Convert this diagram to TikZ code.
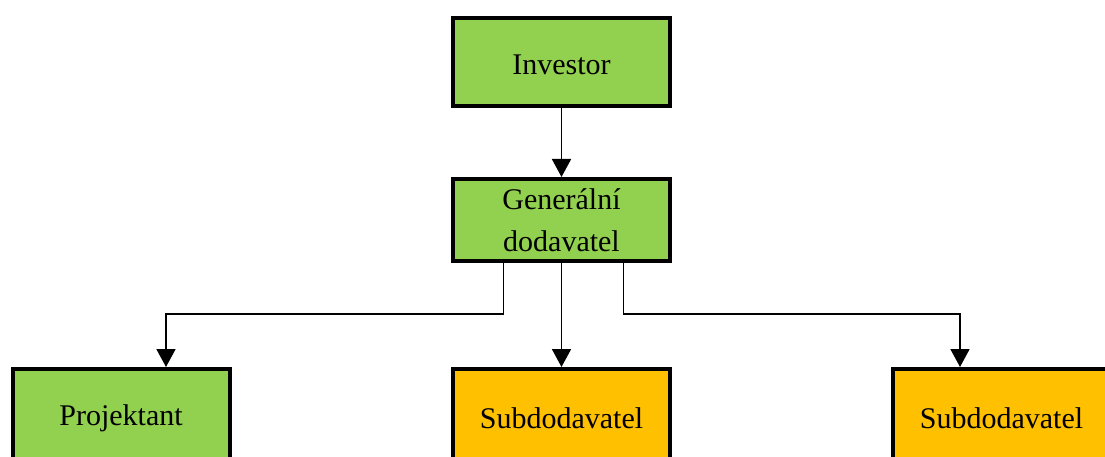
\documentclass[tikz,border=0pt]{standalone}
\usepackage{fontspec}
\setmainfont{Liberation Serif}
\usetikzlibrary{arrows.meta}
\definecolor{boxgreen}{HTML}{92D050}
\definecolor{boxorange}{HTML}{FFC000}
\begin{document}
\begin{tikzpicture}[x=1pt,y=-1pt,
  box/.style={draw=black,line width=4pt,minimum width=217pt,minimum height=88pt,inner sep=0pt,align=center,font=\fontsize{30}{42}\selectfont,text=black},
  gbox/.style={box,fill=boxgreen},
  obox/.style={box,fill=boxorange},
  conn/.style={draw=black,line width=1.8pt,-{Triangle[length=18pt,width=19pt]}}]
\useasboundingbox (0,0) rectangle (1105,457);
\node[gbox] (inv) at (561.5,62) {\raisebox{-3pt}[20pt][0pt]{Investor}};
\node[gbox,minimum height=82pt] (gen) at (561.5,220) {Generální\\dodavatel};
\node[gbox,minimum height=98pt] (proj) at (121,418) {Projektant};
\node[obox,minimum height=98pt] (sub1) at (561.5,418) {Subdodavatel};
\node[obox,minimum height=98pt] (sub2) at (1001.5,418) {Subdodavatel};
\coordinate (gl) at ([xshift=-58pt]gen.south);
\coordinate (gr) at ([xshift=62pt]gen.south);
\draw[conn] (inv.south) -- (gen.north);
\draw[conn] (gen.south) -- (sub1.north);
\draw[conn] (gl) |- (166,314) -- (proj.north -| 166,0);
\draw[conn] (gr) |- (960,314) -- (sub2.north -| 960,0);
\end{tikzpicture}
\end{document}
